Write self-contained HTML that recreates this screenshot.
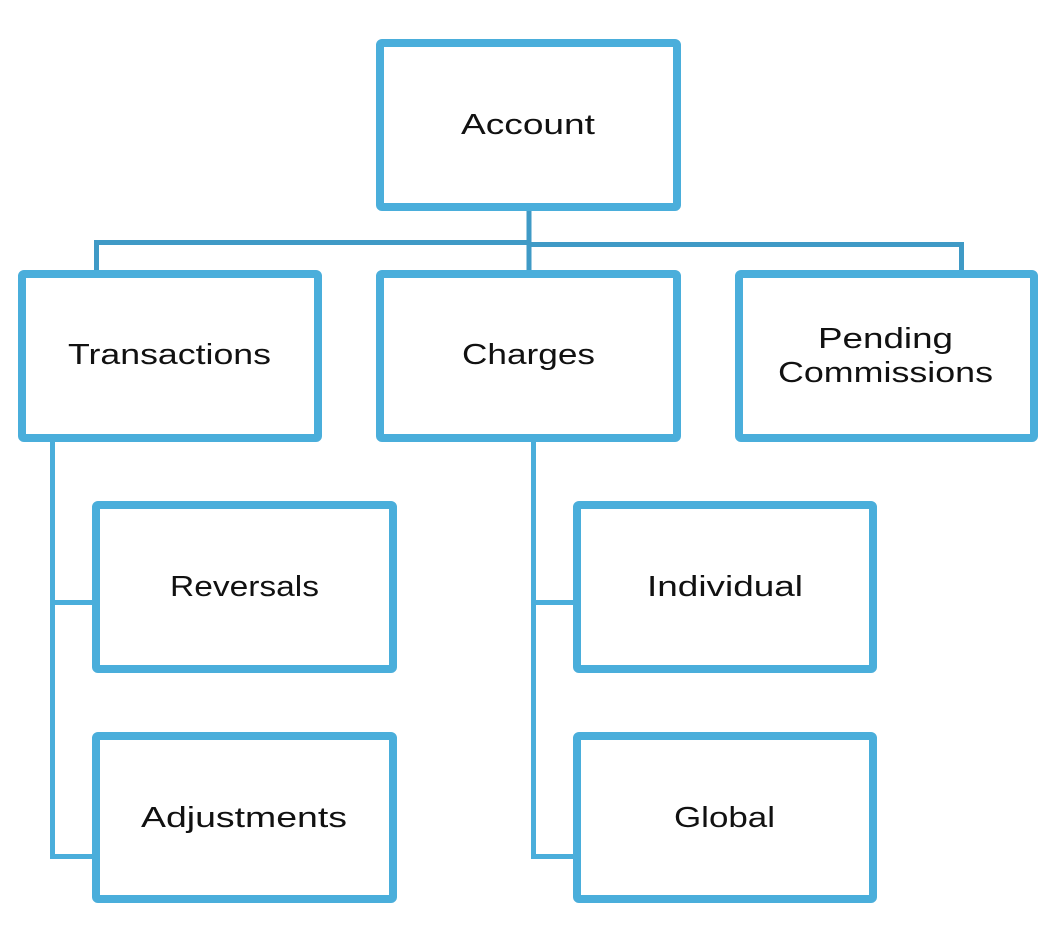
<!DOCTYPE html>
<html><head><style>html,body{margin:0;padding:0;background:#fff}svg{display:block}</style></head>
<body>
<svg width="1055" height="942" viewBox="0 0 1055 942" xmlns="http://www.w3.org/2000/svg">
<g fill="none" stroke="#3f9ac6" stroke-width="5">
<path d="M529 211 V270"/>
<path d="M96.5 270 V242.5 H529"/>
<path d="M529 244.5 H961.5 V270"/>
</g>
<g fill="none" stroke="#4aaedb" stroke-width="5">
<path d="M52.5 442 V856.5 H92 M52.5 602.5 H92"/>
<path d="M533.5 442 V856.5 H573 M533.5 602.5 H573"/>
</g>
<g fill="#fff" stroke="#4aaedb" stroke-width="8" stroke-linejoin="round">
<rect x="380" y="43" width="297" height="164" rx="2"/>
<rect x="22" y="274" width="296" height="164" rx="2"/>
<rect x="380" y="274" width="297" height="164" rx="2"/>
<rect x="739" y="274" width="295" height="164" rx="2"/>
<rect x="96" y="505" width="297" height="164" rx="2"/>
<rect x="96" y="736" width="297" height="163" rx="2"/>
<rect x="577" y="505" width="296" height="164" rx="2"/>
<rect x="577" y="736" width="296" height="163" rx="2"/>
</g>
<g font-family="Liberation Sans, sans-serif" font-size="29" fill="#111" lengthAdjust="spacingAndGlyphs">
<text x="461" y="134" textLength="134" lengthAdjust="spacingAndGlyphs">Account</text>
<text x="68" y="364" textLength="203" lengthAdjust="spacingAndGlyphs">Transactions</text>
<text x="462" y="364" textLength="133" lengthAdjust="spacingAndGlyphs">Charges</text>
<text x="818" y="348" textLength="135" lengthAdjust="spacingAndGlyphs">Pending</text>
<text x="778" y="382" textLength="215" lengthAdjust="spacingAndGlyphs">Commissions</text>
<text x="170" y="596" textLength="149" lengthAdjust="spacingAndGlyphs">Reversals</text>
<text x="141" y="827" textLength="206" lengthAdjust="spacingAndGlyphs">Adjustments</text>
<text x="647" y="596" textLength="156" lengthAdjust="spacingAndGlyphs">Individual</text>
<text x="674" y="827" textLength="101" lengthAdjust="spacingAndGlyphs">Global</text>
</g>
</svg>
</body></html>
